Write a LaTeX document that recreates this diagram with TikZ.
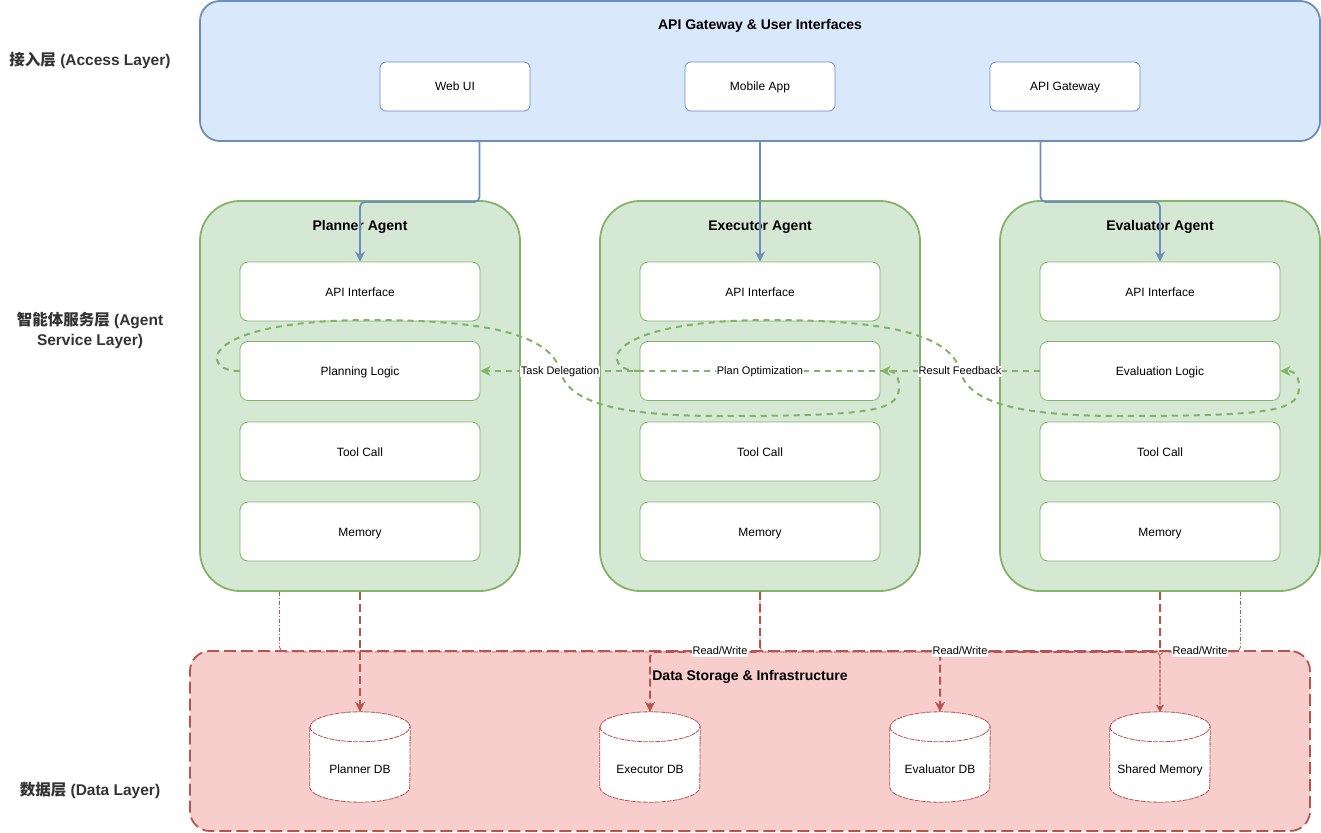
\documentclass[tikz,border=0pt]{standalone}
\usepackage{fontspec}
\setmainfont{Liberation Sans}
\newfontfamily\cjk{Noto Sans CJK SC}
\usetikzlibrary{arrows.meta,calc}
\definecolor{blueF}{HTML}{DAE8FC}
\definecolor{blueS}{HTML}{6C8EBF}
\definecolor{greenF}{HTML}{D5E8D4}
\definecolor{greenS}{HTML}{82B366}
\definecolor{redF}{HTML}{F8CECC}
\definecolor{redS}{HTML}{B85450}
\definecolor{txtgray}{HTML}{333333}
\newcommand\dbcyl[3]{%
  \node[cylbox] (#1) at (#2,757) {};
  \draw[cylst,fill=white] ([yshift=-15pt]#1.north west) -- ([yshift=15pt]#1.south west)
     arc[start angle=180,end angle=360,x radius=50pt,y radius=15pt]
     -- ([yshift=-15pt]#1.north east)
     arc[start angle=0,end angle=180,x radius=50pt,y radius=15pt] -- cycle;
  \draw[cylst] ([yshift=-15pt]#1.north west) arc[start angle=180,end angle=360,x radius=50pt,y radius=15pt];
  \node[dbtext] (#1-t) at (#2,769) {#3};
}
\begin{document}
\begin{tikzpicture}[x=1pt,y=-1pt,
  font=\fontsize{12}{14}\selectfont,
  every node/.style={text height=0.9em, text depth=0pt},
  acc/.style={draw=blueS, fill=blueF, line width=1.8pt, rounded corners=20pt, minimum width=1120pt, minimum height=140pt, inner sep=0pt},
  ui/.style={draw=blueS, fill=white, line width=0.8pt, rounded corners=6pt, minimum width=150pt, minimum height=49pt, inner sep=0pt},
  agent/.style={draw=greenS, fill=greenF, line width=1.8pt, rounded corners=40pt, minimum width=320pt, minimum height=390pt, inner sep=0pt},
  mod/.style={draw=greenS, fill=white, line width=0.8pt, rounded corners=8pt, minimum width=240pt, minimum height=59pt, inner sep=0pt},
  datac/.style={draw=redS, fill=redF, line width=1.8pt, dash pattern=on 12pt off 5pt, rounded corners=20pt, minimum width=1120pt, minimum height=180pt, inner sep=0pt},
  cylbox/.style={minimum width=100pt, minimum height=90pt, inner sep=0pt},
  cylst/.style={draw=redS, line width=0.8pt, dash pattern=on 5pt off 1pt},
  dbtext/.style={inner sep=0pt},
  ttl/.style={font=\fontsize{14}{16}\selectfont\bfseries, inner sep=0pt},
  layer/.style={font=\fontsize{15.5}{20}\selectfont\bfseries, text=txtgray, align=center, inner sep=0pt, text height=, text depth=},
  lbl/.style={fill=white, inner sep=1pt, text height=0.8em, text depth=0.1em, font=\fontsize{11}{12}\selectfont},
  bluearr/.style={draw=blueS, line width=1.8pt, rounded corners=5pt, -{Stealth[length=10pt,width=10pt,inset=3pt]}},
  redarr/.style={draw=redS, line width=2pt, dash pattern=on 8pt off 4pt, rounded corners=5pt, -{Stealth[length=10pt,width=10pt,inset=3pt]}},
  redthin/.style={draw=redS, line width=0.8pt, dash pattern=on 4pt off 2pt on 1pt off 2pt, rounded corners=5pt, -{Stealth[length=7pt,width=7pt,inset=2pt]}},
  gdash/.style={draw=greenS, line width=2pt, dash pattern=on 6pt off 5pt, -{Stealth[length=10pt,width=10pt,inset=3pt]}}
]
\fill[white] (0,0) rectangle (1321,832);
\useasboundingbox (0,0) rectangle (1321,832);

% layer labels
\node[layer] (L1) at (90,60) {{\cjk 接入层} (Access Layer)};
\node[layer] (L2) at (90,330) {{\cjk 智能体服务层} (Agent\\Service Layer)};
\node[layer] (L3) at (90,790) {{\cjk 数据层} (Data Layer)};

% access layer
\node[acc] (acc) at (760,71) {};
\node[ttl] (accT) at (760,25.5) {API Gateway \& User Interfaces};
\node[ui] (web) at (455,86.5) {Web UI};
\node[ui] (mob) at (760,86.5) {Mobile App};
\node[ui] (gw) at (1065,86.5) {API Gateway};

% agents
\node[agent] (pa) at (360,396) {};
\node[agent] (ea) at (760,396) {};
\node[agent] (va) at (1160,396) {};
\node[ttl] (paT) at (360,225.5) {Planner Agent};
\node[ttl] (eaT) at (760,225.5) {Executor Agent};
\node[ttl] (vaT) at (1160,225.5) {Evaluator Agent};

\node[mod] (papi) at (360,291.5) {API Interface};
\node[mod] (plog) at (360,371) {Planning Logic};
\node[mod] (ptool) at (360,451.5) {Tool Call};
\node[mod] (pmem) at (360,531.5) {Memory};

\node[mod] (eapi) at (760,291.5) {API Interface};
\node[mod] (eplan) at (760,371) {};
\node[mod] (etool) at (760,451.5) {Tool Call};
\node[mod] (emem) at (760,531.5) {Memory};

\node[mod] (vapi) at (1160,291.5) {API Interface};
\node[mod] (vlog) at (1160,371) {Evaluation Logic};
\node[mod] (vtool) at (1160,451.5) {Tool Call};
\node[mod] (vmem) at (1160,531.5) {Memory};

% data layer
\node[datac] (data) at (750,741) {};
\node[ttl] (dataT) at (750,675.5) {Data Storage \& Infrastructure};
\dbcyl{pdb}{360}{Planner DB}
\dbcyl{edb}{650}{Executor DB}
\dbcyl{vdb}{940}{Evaluator DB}
\dbcyl{sdb}{1160}{Shared Memory}

% blue connectors
\coordinate (accA) at ($(acc.south west)!0.25!(acc.south east)$);
\coordinate (accC) at ($(acc.south west)!0.75!(acc.south east)$);
\draw[bluearr] (accA) -- ++(0,60) -| (papi.north);
\draw[bluearr] (acc.south) -- (eapi.north);
\draw[bluearr] (accC) -- ++(0,60) -| (vapi.north);

% red thin connectors to shared memory
\coordinate (paA) at ($(pa.south west)!0.25!(pa.south east)$);
\coordinate (vaC) at ($(va.south west)!0.75!(va.south east)$);
\draw[redthin] (paA) -- ++(0,60) -| (sdb.north);
\draw[redthin] (ea.south) -- ++(0,60) -| (sdb.north);
\draw[redthin] (vaC) -- ++(0,60) -| (sdb.north);

% red thick connectors
\draw[redarr] (pa.south) -- (pdb.north);
\draw[redarr] (ea.south) -- ++(0,60) -| (edb.north);
\draw[redarr] (va.south) -- ++(0,60) -| (vdb.north);

% green connectors
\draw[gdash] (vlog.west) -- (plog.east);
\draw[gdash] (plog.west) .. controls (200,372) and (195,321) .. (367,320)
  .. controls (470,320) and (550,330) .. (560,371)
  .. controls (568,400) and (610,416) .. (720,416)
  .. controls (880,416) and (900,410) .. (899,385)
  .. controls (898,375) and (895,371) .. (eplan.east);
\draw[gdash] (eplan.west) .. controls (600,372) and (595,321) .. (767,320)
  .. controls (870,320) and (950,330) .. (960,371)
  .. controls (968,400) and (1010,416) .. (1120,416)
  .. controls (1280,416) and (1300,410) .. (1299,385)
  .. controls (1298,375) and (1295,371) .. (vlog.east);

% labels
\node[lbl] (lTD) at (560,371) {Task Delegation};
\node[lbl] (lPO) at (760,371) {Plan Optimization};
\node[lbl] (lRF) at (960,371) {Result Feedback};
\node[lbl] (lRW1) at (720,651) {Read/Write};
\node[lbl] (lRW2) at (960,651) {Read/Write};
\node[lbl] (lRW3) at (1200,651) {Read/Write};
\end{tikzpicture}
\end{document}
